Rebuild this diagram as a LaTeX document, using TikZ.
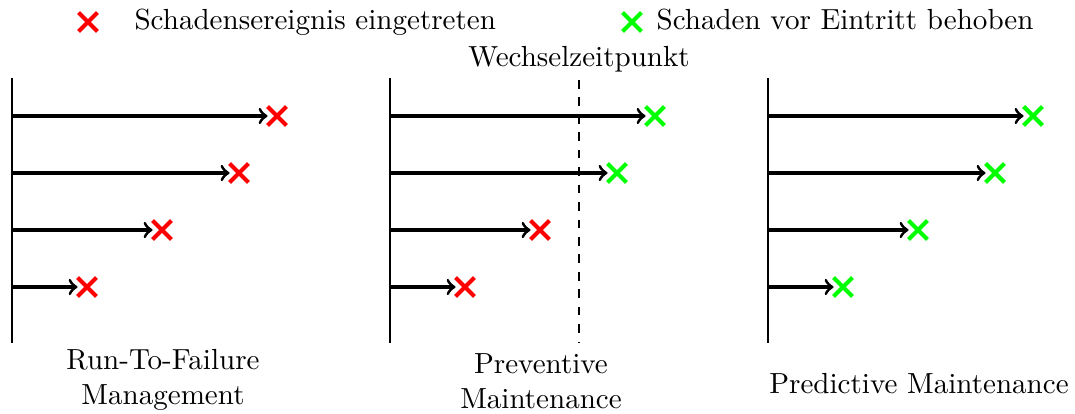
\documentclass[tikz,border=0pt]{standalone}
\usetikzlibrary{shapes.misc}
\begin{document}
\begin{tikzpicture}[x=0.344pt,y=-0.344pt,
  axisline/.style={line width=0.45pt},
  tl/.style={->,line width=1.05pt},
  crs/.style={cross out,draw=#1,line width=1.45pt,minimum size=6.5pt,inner sep=0pt,outer sep=0pt},
  lbl/.style={align=center,anchor=base,inner sep=0pt,font=\normalsize},
  wechsel/.style={dashed,line width=0.45pt}]
\useasboundingbox (0,0) rectangle (1075,414);
% legend
\node[crs=red] (legR) at (88,22) {};
\node[anchor=base west,inner sep=0pt] (legRt) at (134,30) {Schadensereignis eingetreten};
\node[crs=green] (legG) at (632,22) {};
\node[anchor=base west,inner sep=0pt] (legGt) at (656,30) {Schaden vor Eintritt behoben};
% axes
\foreach \n/\x in {a/12,b/390,c/768}{
  \coordinate (\n top) at (\x,78);
  \coordinate (\n bot) at (\x,343);
  \draw[axisline] (\n top) -- (\n bot);
  \foreach \r/\y in {1/116,2/173,3/230,4/287}{
    \coordinate (\n s\r) at (\x,\y);
  }
}
% Wechselzeitpunkt
\coordinate (wtop) at (579,80);
\coordinate (wbot) at (579,343);
\draw[wechsel] (wtop) -- (wbot);
\node[lbl] (wlabel) at (579,67) {Wechselzeitpunkt};
% crosses and arrows
\foreach \n/\x/\ca/\cb/\cc/\cd in {a/12/red/red/red/red,b/390/green/green/red/red,c/768/green/green/green/green}{
  \node[crs=\ca] (\n x1) at (\x+265,116) {};
  \node[crs=\cb] (\n x2) at (\x+227,173) {};
  \node[crs=\cc] (\n x3) at (\x+150,230) {};
  \node[crs=\cd] (\n x4) at (\x+75,287) {};
  \foreach \r in {1,2,3,4}{
    \draw[tl] (\n s\r) -- (\n x\r.west);
  }
}
% labels
\node[lbl] (la) at (163,404) {Run-To-Failure\\Management};
\node[lbl] (lb) at (541,408) {Preventive\\Maintenance};
\node[lbl] (lc) at (919,393) {Predictive Maintenance};
\end{tikzpicture}
\end{document}
